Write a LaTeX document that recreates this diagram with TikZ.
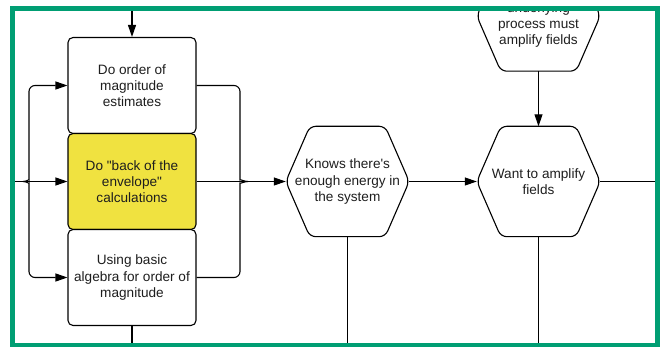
\documentclass[tikz,border=0pt]{standalone}
\usepackage{fontspec}
\setmainfont{Liberation Sans}
\usetikzlibrary{arrows.meta}
\definecolor{framegreen}{RGB}{0,158,115}
\definecolor{calcyellow}{RGB}{240,226,64}
\definecolor{ink}{RGB}{30,30,30}
\tikzset{
  txt/.style={font=\fontsize{13.6}{16.2}\selectfont, text=ink, align=center},
  stepbox/.style={txt, draw=black, line width=1.1pt, rounded corners=5pt,
    minimum width=128pt, minimum height=96pt, inner sep=0pt, fill=white},
  hexbox/.style={txt, minimum width=123pt, minimum height=110pt, inner sep=0pt},
  hexline/.style={draw=black, line width=1.1pt, rounded corners=6pt},
  wire/.style={draw=black, line width=1.1pt},
  arr/.style={wire, -{Triangle[length=12pt,width=8pt]}},
}
% hexagonal outline around a rectangular node
\newcommand\hexoutline[1]{%
  \draw[hexline] (#1.west) -- ([xshift=24pt]#1.north west)
    -- ([xshift=-24pt]#1.north east) -- (#1.east)
    -- ([xshift=-24pt]#1.south east) -- ([xshift=24pt]#1.south west) -- cycle;}
\begin{document}
\begin{tikzpicture}[x=1pt,y=-1pt]
\useasboundingbox (0,0) rectangle (661,347);
\begin{scope}
  \clip (15,11) rectangle (655,342.5);
  % stacked estimation steps
  \node[stepbox] (b1) at (132,85.5) {Do order of\\magnitude\\estimates};
  \node[stepbox, fill=calcyellow] (b2) at (132,181.5)
    {Do \textquotedbl back of the\\envelope\textquotedbl\\calculations};
  \node[stepbox] (b3) at (132,277.5) {Using basic\\algebra for order of\\magnitude};
  % decision hexagons
  \node[hexbox] (h1) at (347.5,181.5) {Knows there\textquotesingle s\\enough energy in\\the system};
  \node[hexbox] (h2) at (538.5,181.5) {Want to amplify\\fields};
  \node[hexbox] (h0) at (538.5,16) {};
  \node[txt] (h0text) at (538.5,25) {underlying\\process must\\amplify fields};
  \hexoutline{h1}
  \hexoutline{h2}
  \hexoutline{h0}
  % free ends at the frame edges
  \coordinate (topin) at (132,11);
  \coordinate (leftin) at (15,181.5);
  \coordinate (rightin) at (655,181.5);
  \coordinate (bottom) at (0,342.5);
  \coordinate (lb) at (23,181.5);
  \coordinate (rb) at (248,181.5);
  % connectors
  \draw[arr] (topin) -- (b1.north);
  \draw[arr] (leftin) -- (b2.west);
  \draw[arr, rounded corners=6pt] (lb) .. controls (27,181.5) and (29,179) .. (29,174)
    -- (29,85.5) -- (b1.west);
  \draw[arr, rounded corners=6pt] (lb) .. controls (27,181.5) and (29,184) .. (29,189)
    -- (29,277.5) -- (b3.west);
  \draw[wire, rounded corners=6pt] (b1.east) -- (240,85.5) -- (240,174)
    .. controls (240,179) and (244,181.5) .. (rb);
  \draw[wire, rounded corners=6pt] (b3.east) -- (240,277.5) -- (240,189)
    .. controls (240,184) and (244,181.5) .. (rb);
  \draw[wire] (b2.east) -- (rb);
  \draw[arr] (rb) -- (h1.west);
  \draw[arr] (h1.east) -- (h2.west);
  \draw[arr] (h0.south) -- (h2.north);
  \draw[wire] (h2.east) -- (rightin);
  \draw[wire] (b3.south) -- (b3.south |- bottom);
  \draw[wire] (h1.south) -- (h1.south |- bottom);
  \draw[wire] (h2.south) -- (h2.south |- bottom);
\end{scope}
% outer frame
\draw[framegreen, line width=5pt] (12.5,8.5) rectangle (657.5,345);
\end{tikzpicture}
\end{document}
